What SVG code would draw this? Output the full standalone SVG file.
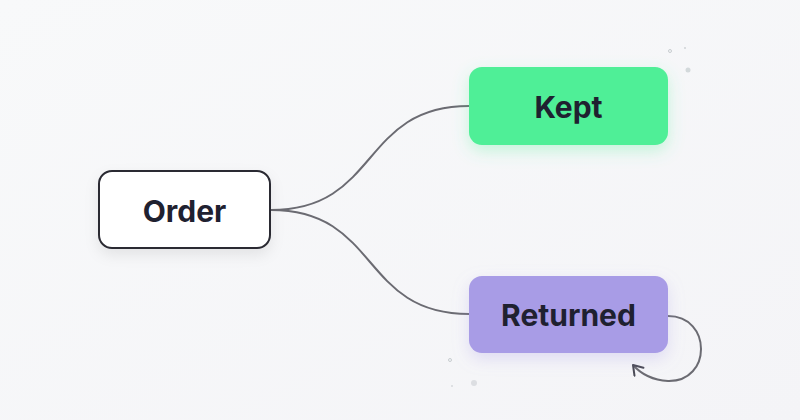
<svg xmlns="http://www.w3.org/2000/svg" width="800" height="420" viewBox="0 0 800 420">
<defs>
<linearGradient id="bg" x1="0" y1="0" x2="1" y2="1"><stop offset="0" stop-color="#f8f9fa"/><stop offset="1" stop-color="#f4f4f7"/></linearGradient>
<filter id="sh" x="-30%" y="-30%" width="160%" height="180%"><feDropShadow dx="0" dy="6" stdDeviation="7" flood-color="#000" flood-opacity="0.08"/></filter>
<filter id="shg" x="-30%" y="-30%" width="160%" height="180%"><feDropShadow dx="0" dy="6" stdDeviation="8" flood-color="#4ef095" flood-opacity="0.3"/></filter>
<filter id="shp" x="-30%" y="-30%" width="160%" height="180%"><feDropShadow dx="0" dy="6" stdDeviation="8" flood-color="#a89ce6" flood-opacity="0.3"/></filter>
<marker id="ah" markerWidth="14" markerHeight="14" refX="11" refY="7" orient="auto" markerUnits="userSpaceOnUse"><path d="M2,1 L11,7 L2,13" fill="none" stroke="#4a4a55" stroke-width="2" stroke-linecap="round" stroke-linejoin="round"/></marker>
</defs>
<style>
.lbl{font-family:Inter,"Liberation Sans",sans-serif;font-weight:700;font-size:30px;fill:#1f2130;text-anchor:middle;dominant-baseline:central}
.edge{fill:none;stroke:#6b6b72;stroke-width:2}
.dot{fill:none;stroke:#c8cdd0;stroke-width:1}
</style>
<rect width="800" height="420" fill="url(#bg)"/>
<g id="decor">
<circle class="dot" cx="670" cy="51" r="1.5"/><circle cx="685" cy="48" r="1" fill="#cfd3d6"/><circle cx="688" cy="70" r="2.5" fill="#d3d9db"/>
<circle class="dot" cx="450" cy="360" r="1.5"/><circle cx="474" cy="383" r="3" fill="#dcdee2"/><circle cx="452" cy="386" r="1" fill="#d6d8dc"/>
</g>
<g id="connectors">
<path class="edge" d="M271,210 C380,210 360,106 469,106"/>
<path class="edge" d="M271,210 C380,210 360,314 469,314"/>
<path class="edge" d="M668,316 C712,316 712,382 668,381 C652,380 641,374 633,365" marker-end="url(#ah)"/>
</g>
<g id="order"><rect x="99" y="171" width="171" height="77" rx="13" fill="#fff" stroke="#2a2a33" stroke-width="2" filter="url(#sh)"/><text class="lbl" x="184.5" y="211">Order</text></g>
<g id="kept"><rect x="469" y="67" width="199" height="78" rx="13" fill="#50ef97" filter="url(#shg)"/><text class="lbl" x="568.5" y="107">Kept</text></g>
<g id="returned"><rect x="469" y="276" width="199" height="77" rx="13" fill="#a89ce6" filter="url(#shp)"/><text class="lbl" x="568.5" y="315">Returned</text></g>
</svg>
